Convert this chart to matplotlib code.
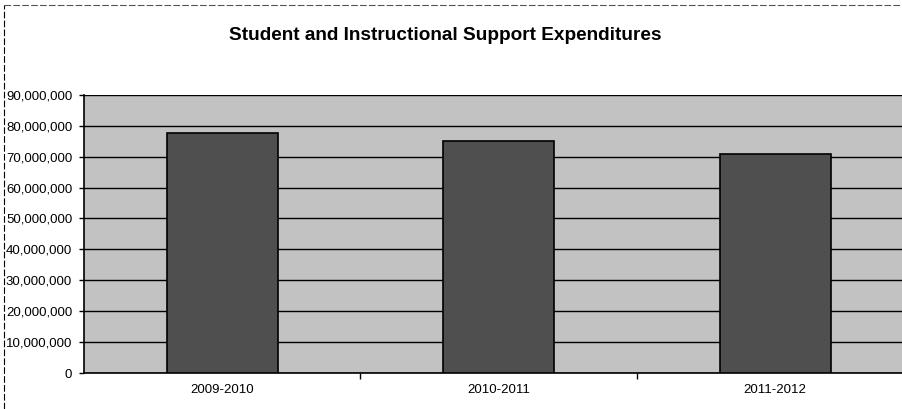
import numpy as np
import matplotlib.pyplot as plt
from matplotlib.lines import Line2D

years = ["2009-2010", "2010-2011", "2011-2012"]
spending = [77700000, 75100000, 70900000]
yticks = list(range(0, 90000001, 10000000))

plt.rcParams['font.family'] = ['Liberation Sans', 'DejaVu Sans']

fig = plt.figure(figsize=(9.02, 4.09), dpi=100)
ax = fig.add_axes([0.0931, 0.088, 0.9196, 0.680])

x = np.arange(len(years))
ax.bar(x, spending, width=0.40, color='#4f4f4f', edgecolor='black', linewidth=1.2, zorder=3)

ax.set_facecolor('#c2c2c2')
ax.set_xlim(-0.5, 2.5)
ax.set_ylim(0, 90000000)
ax.set_yticks(yticks)
ax.set_yticklabels([f"{v:,}" for v in yticks], fontsize=9.5)
ax.yaxis.grid(True, color='black', linewidth=1.0, zorder=1)

ax.set_xticks([0.5, 1.5])
ax.set_xticklabels([])
ax.set_xticks(x, minor=True)
ax.set_xticklabels(years, minor=True, fontsize=9.5)
ax.tick_params(axis='x', which='minor', length=0, pad=8)
ax.tick_params(axis='x', which='major', length=4, width=1, direction='out')
ax.tick_params(axis='y', length=3.5, width=1, direction='out', pad=5)

for s in ['top', 'right']:
    ax.spines[s].set_visible(False)
ax.spines['left'].set_linewidth(1.2)
ax.spines['bottom'].set_linewidth(1.2)

fig.text(0.494, 0.913, "Student and Instructional Support Expenditures",
         ha='center', va='center', fontsize=13.7, fontweight='bold')

# chart frame
fig.add_artist(Line2D([0.004, 0.004], [0.0, 0.988], color='black', linewidth=0.8,
                      linestyle=(0, (6, 2)), transform=fig.transFigure))
fig.add_artist(Line2D([0.004, 1.0], [0.988, 0.988], color='#555555', linewidth=0.8,
                      linestyle=(0, (6, 2)), transform=fig.transFigure))

fig.savefig("out.png", dpi=100)
